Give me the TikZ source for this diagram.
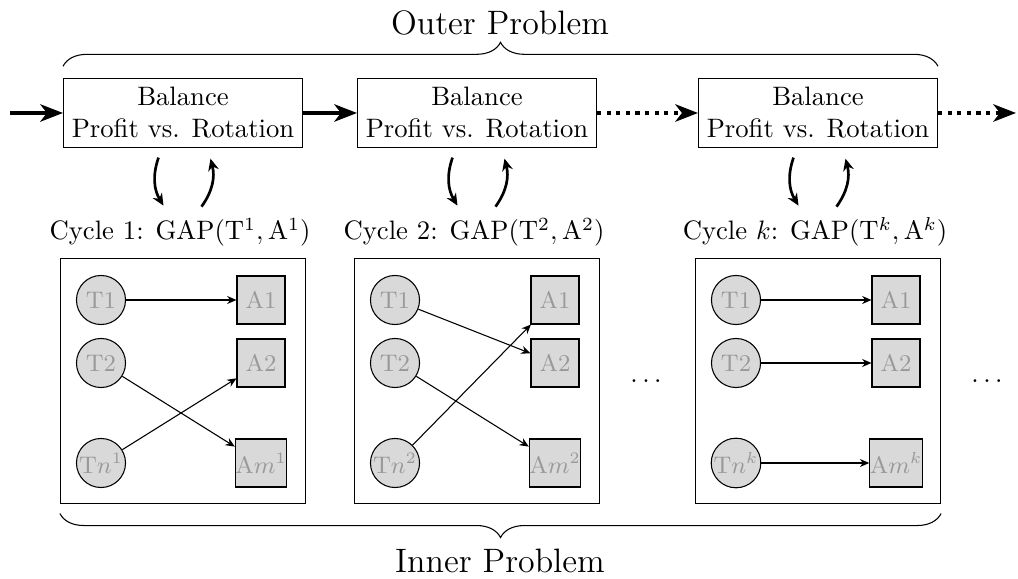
\documentclass[tikz,border=0pt]{standalone}
\usetikzlibrary{arrows.meta,calc,decorations.pathreplacing}
\definecolor{NodeFill}{gray}{0.85}
\definecolor{NodeText}{gray}{0.6}

\begin{document}
\begin{tikzpicture}[x=0.375pt,y=-0.375pt,
  stage/.style={draw,align=center,minimum width=89.6pt,minimum height=25.6pt,inner sep=0pt},
  cycbox/.style={draw,minimum width=91.9pt,minimum height=92.2pt,inner sep=0pt},
  task/.style={circle,draw,fill=NodeFill,text=NodeText,font=\small,minimum size=18.4pt,inner sep=0pt},
  agent/.style={rectangle,draw,fill=NodeFill,text=NodeText,font=\small,minimum size=18pt,inner sep=0pt},
  flow/.style={line width=1.6pt,-{Stealth[length=8.5pt,width=6.5pt,inset=2.5pt]}},
  swap/.style={line width=1pt,-{Stealth[length=4.5pt,width=4pt]}},
  link/.style={-{Stealth[length=3.5pt,width=3pt]}},
  bigbrace/.style={decorate,decoration={brace,amplitude=9pt}},
  bigtext/.style={font=\fontsize{12.7}{15}\selectfont}]
\useasboundingbox (0,0) rectangle (1018,579);

\foreach \i/\x/\s in {1/183/1,2/477/2,3/818/k}{
  \node[stage] (b\i) at (\x,113) {Balance\\Profit vs. Rotation};
  \node[cycbox] (f\i) at (\x,381) {};
  \node[anchor=base] (c\i) at (\x-3,240) {Cycle $\s$: $\mathrm{GAP}(\mathrm{T}^{\s},\mathrm{A}^{\s})$};
  \node[task] (ta\i) at (\x-82,300) {T1};
  \node[task] (tb\i) at (\x-82,363) {T2};
  \node[task] (tn\i) at (\x-82,463) {T$n^{\s}$};
  \node[agent] (aa\i) at (\x+78,300) {A1};
  \node[agent] (ab\i) at (\x+78,363) {A2};
  \node[agent] (am\i) at (\x+78,463) {A$m^{\s}$};
  \draw[swap] ($(b\i.south)+(-24.5,10)$) to[bend right=25] ($(b\i.south)+(-19.5,58)$);
  \draw[swap] ($(b\i.south)+(18.5,59)$) to[bend right=25] ($(b\i.south)+(27.5,11)$);
}

\coordinate (in) at (10,113);
\coordinate (out) at (1016,113);
\draw[flow] (in) -- (b1);
\draw[flow] (b1) -- (b2);
\draw[flow,dotted] (b2) -- (b3);
\draw[flow,dotted] (b3) -- (out);

\draw[link] (ta1) -- (aa1);
\draw[link] (tb1) -- (am1);
\draw[link] (tn1) -- (ab1);
\draw[link] (ta2) -- (ab2);
\draw[link] (tb2) -- (am2);
\draw[link] (tn2) -- (aa2);
\draw[link] (ta3) -- (aa3);
\draw[link] (tb3) -- (ab3);
\draw[link] (tn3) -- (am3);

\node (dl) at (646,381) {$\ldots$};
\node (dr) at (987,381) {$\ldots$};

\draw[bigbrace] ([yshift=4.5pt]b1.north west) -- ([yshift=4.5pt]b3.north east);
\draw[bigbrace] ([yshift=-3.4pt]f3.south east) -- ([yshift=-3.4pt]f1.south west);
\node[bigtext,anchor=base] (outer) at (500,35) {Outer Problem};
\node[bigtext,anchor=base] (inner) at (500,572) {Inner Problem};
\end{tikzpicture}
\end{document}
